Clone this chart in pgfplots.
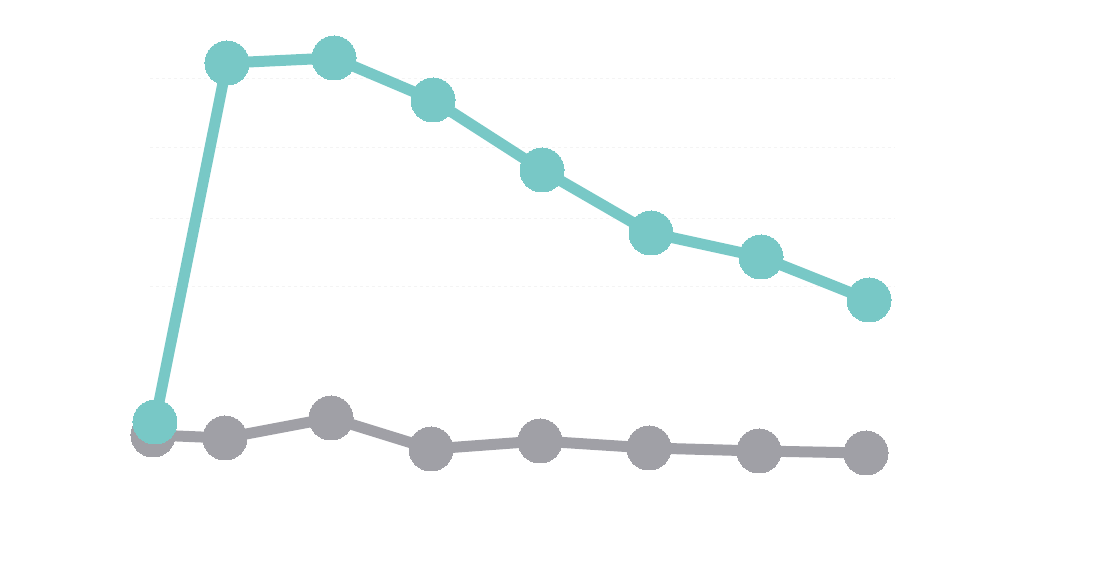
\documentclass[border=0pt]{standalone}
\usepackage{pgfplots}
\pgfplotsset{compat=1.18}
\definecolor{tealline}{HTML}{78C8C6}
\definecolor{grayline}{HTML}{A0A0A6}
\begin{document}
\begin{tikzpicture}
  \begin{axis}[
    scale only axis,
    width=745pt, height=564pt,
    xmin=150, xmax=895,
    ymin=0, ymax=564,
    axis line style={draw=none},
    xtick=\empty,
    ytick={278,346,417,486},
    yticklabels={},
    major tick length=0pt,
    ymajorgrids=true,
    grid style={dashed, color=gray!9, line width=0.8pt},
    clip=false,
    ]
    \path (axis cs:0,0) rectangle (axis cs:1094,564);
    \addplot[color=grayline, line width=11pt, mark=*, mark size=22pt,
      mark options={fill=grayline, draw=none, line width=0pt}] coordinates {
      (153,129)(225,126)(331,146)(431,115)(540,123)(649,116)(759,113)(866,111)
    };
    \addplot[color=tealline, line width=11pt, mark=*, mark size=22pt,
      mark options={fill=tealline, draw=none, line width=0pt}] coordinates {
      (155,142)(227,501)(334,506)(433,464)(542,394)(651,331)(761,307)(869,264)
    };
  \end{axis}
\end{tikzpicture}
\end{document}
